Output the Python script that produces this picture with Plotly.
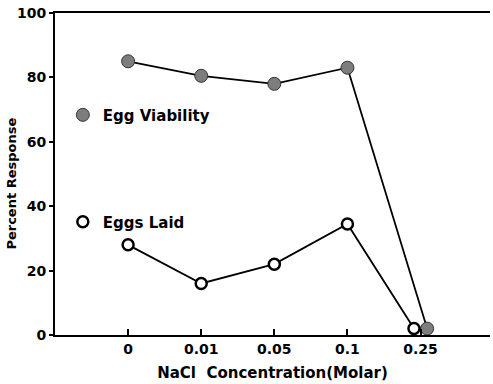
import plotly.graph_objects as go

categories = ["0", "0.01", "0.05", "0.1", "0.25"]
viability = [85, 80.5, 78, 83, 2]
eggs_laid = [28, 16, 22, 34.5, 2]
# small horizontal display offsets so overlapping last points are both visible
via_offset = [0, 0, 0, 0, 0.09]
laid_offset = [0, 0, 0, 0, -0.09]
y_ticks = [0, 20, 40, 60, 80, 100]

idx = list(range(len(categories)))
xv = [i + o for i, o in zip(idx, via_offset)]
xl = [i + o for i, o in zip(idx, laid_offset)]

font = dict(family="DejaVu Sans, Verdana, sans-serif", size=12, color="black")
via_marker = dict(size=13, color="#7d7d7d", line=dict(color="#333", width=1))
laid_marker = dict(size=11, color="white", line=dict(color="black", width=2.5))

fig = go.Figure()
fig.add_trace(go.Scatter(x=xv, y=viability, mode="lines+markers", showlegend=False,
                         line=dict(color="black", width=1.8), marker=via_marker))
fig.add_trace(go.Scatter(x=xl, y=eggs_laid, mode="lines+markers", showlegend=False,
                         line=dict(color="black", width=1.8), marker=laid_marker))
fig.add_trace(go.Scatter(x=[None], y=[None], mode="markers", name="<b>Egg Viability</b>",
                         marker=via_marker, legend="legend"))
fig.add_trace(go.Scatter(x=[None], y=[None], mode="markers", name="<b>Eggs Laid</b>",
                         marker=laid_marker, legend="legend2"))

fig.add_annotation(text="<b>Percent Response</b>", textangle=-90, xref="paper", yref="paper",
                   x=-0.099, y=0.47, xanchor="center", yanchor="middle", showarrow=False,
                   font=dict(size=13))

fig.update_layout(
    width=493, height=384,
    margin=dict(l=55, r=3, t=13, b=49),
    paper_bgcolor="white", plot_bgcolor="white",
    font=font,
    legend=dict(x=0.018, y=0.683, xanchor="left", yanchor="middle", bgcolor="rgba(0,0,0,0)",
                font=dict(size=15), itemwidth=30),
    legend2=dict(x=0.018, y=0.351, xanchor="left", yanchor="middle", bgcolor="rgba(0,0,0,0)",
                 font=dict(size=15), itemwidth=30),
    xaxis=dict(
        range=[-1, 4.95], tickmode="array", tickvals=idx, ticktext=["<b>%s</b>" % c for c in categories],
        showgrid=False, zeroline=False, showline=True, linecolor="black", linewidth=2,
        mirror=True, ticks="inside", ticklen=6, tickwidth=2, tickcolor="black",
        tickfont=dict(size=14), automargin=False,
        title=dict(text="<b>NaCl  Concentration(Molar)</b>", font=dict(size=15), standoff=12),
    ),
    yaxis=dict(
        range=[0, 100], tickmode="array", tickvals=y_ticks, ticktext=["<b>%d</b>" % t for t in y_ticks],
        showgrid=False, zeroline=False, showline=True, linecolor="black", linewidth=2,
        ticks="outside", ticklen=4, tickwidth=2, tickcolor="black",
        tickfont=dict(size=14), automargin=False,
    ),
)

fig.write_html("out.html", config={"displayModeBar": False},
               post_script="document.body.style.margin='0';")
